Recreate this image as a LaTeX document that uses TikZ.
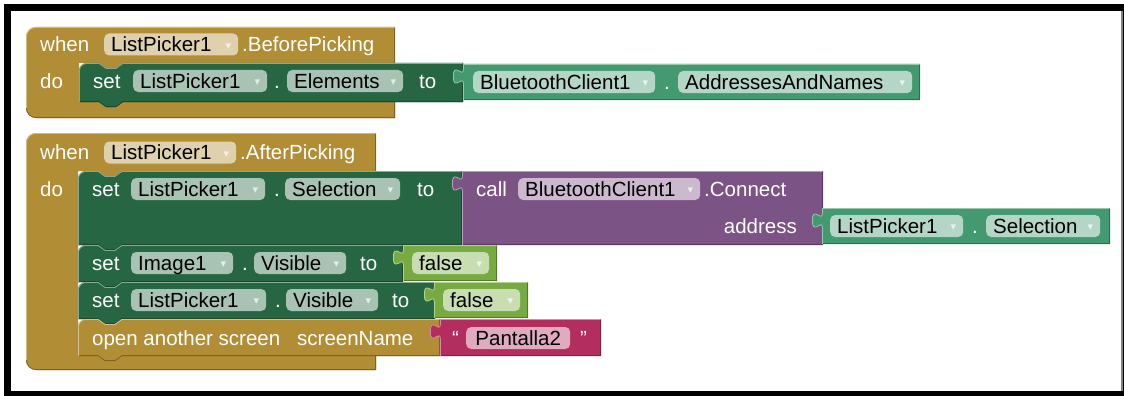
\documentclass[tikz,border=0pt]{standalone}
\usepackage{fontspec}
\setmainfont{Liberation Sans}
\newfontfamily\symfont{DejaVu Sans}

% block palette
\definecolor{evgold}{RGB}{177,141,53}
\definecolor{setgreen}{RGB}{38,102,67}
\definecolor{getgreen}{RGB}{67,153,112}
\definecolor{callpurple}{RGB}{124,83,133}
\definecolor{logicgreen}{RGB}{119,171,65}
\definecolor{textpink}{RGB}{179,45,94}
\colorlet{arrc}{white}

\newcommand\blockfont{\fontsize{20.5}{24}\selectfont}
% dropdown arrow at the right end of a field
\newcommand\dd{\hfill{\symfont\fontsize{11}{11}\selectfont\color{arrc}\raisebox{2.5pt}{▾}}}

% statement block: colour, x0, y0, x1, y1 (y grows downwards)
\newcommand\stmtblock[5]{%
  \fill[#1] (#2,#5) -- (#2,#3+8) arc[start angle=180,end angle=90,radius=8pt]
    -- (#2+20,#3) -- (#2+27,#3+5) -- (#2+37,#3+5) -- (#2+44,#3) -- (#4,#3) -- (#4,#5)
    -- (#2+44,#5) -- (#2+37,#5+5) -- (#2+27,#5+5) -- (#2+20,#5) -- cycle;
  \draw[#1!70!black, line width=0.8pt] (#4-0.4,#3) -- (#4-0.4,#5-0.4) -- (#2+44,#5-0.4)
    -- (#2+37,#5+4.6) -- (#2+27,#5+4.6) -- (#2+20,#5-0.4) -- (#2,#5-0.4);
  \draw[#1!55!white, line width=0.8pt] (#2+0.4,#5) -- (#2+0.4,#3+8)
    arc[start angle=180,end angle=90,radius=7.6pt]
    -- (#2+20,#3+0.4) -- (#2+27,#3+5.4) -- (#2+37,#3+5.4) -- (#2+44,#3+0.4) -- (#4-0.4,#3+0.4);
}

% value block with its puzzle tab on the left: colour, x0, y0, x1, y1
\newcommand\valueblock[5]{%
  \fill[#1] (#2,#3) -- (#4,#3) -- (#4,#5) -- (#2,#5) -- (#2,#3+20)
    .. controls (#2,#3+10) and (#2-10,#3+28) .. (#2-10,#3+12.5)
    .. controls (#2-10,#3-3) and (#2,#3+15) .. (#2,#3+5) -- cycle;
  \draw[#1!70!black, line width=0.8pt] (#4-0.4,#3) -- (#4-0.4,#5-0.4) -- (#2,#5-0.4);
  \draw[#1!55!white, line width=0.8pt] (#2+0.4,#5) -- (#2+0.4,#3+20)
    .. controls (#2+0.4,#3+10) and (#2-9.6,#3+28) .. (#2-9.6,#3+12.5)
    .. controls (#2-9.6,#3-3) and (#2+0.4,#3+15) .. (#2+0.4,#3+5) -- (#2+0.4,#3+0.4) -- (#4-0.4,#3+0.4);
}

% event handler: x0, y0, right, bar bottom, column right, lower bar top, bottom
\newcommand\eventblock[7]{%
  \fill[evgold] (#1,#2+10) arc[start angle=180,end angle=90,radius=10pt] -- (#3,#2) -- (#3,#4)
    -- (#5+44,#4) -- (#5+37,#4+5) -- (#5+27,#4+5) -- (#5+20,#4) -- (#5,#4) -- (#5,#6)
    -- (#3,#6) -- (#3,#7) -- (#1+10,#7) arc[start angle=270,end angle=180,radius=10pt] -- cycle;
  \draw[evgold!70!black, line width=0.8pt] (#3-0.4,#2) -- (#3-0.4,#4);
  \draw[evgold!70!black, line width=0.8pt] (#3-0.4,#6) -- (#3-0.4,#7-0.4) -- (#1+10,#7-0.4)
    arc[start angle=270,end angle=180,radius=9.6pt];
  \draw[evgold!60!white, line width=0.8pt] (#1+0.4,#7-10) -- (#1+0.4,#2+10)
    arc[start angle=180,end angle=90,radius=9.6pt] -- (#3-0.4,#2+0.4);
}

\tikzset{
  lbl/.style={text=white, inner sep=0pt, anchor=west, font=\blockfont,
    text height=14.7pt, text depth=0pt},
  pill/.style={fill=#1!40!white, rounded corners=5pt, inner xsep=7pt, inner ysep=0pt,
    minimum height=22pt, anchor=west, text=black, align=left, font=\blockfont,
    text height=14.7pt, text depth=0pt,
    execute at begin node={\colorlet{arrc}{#1!12!white}}},
}

\begin{document}
\begin{tikzpicture}[x=1pt,y=-1pt]
\useasboundingbox (0,0) rectangle (1124,396);
% frame
\fill[black] (4,4) rectangle (1124,396);
\fill[white] (11,11) rectangle (1121,391);
\fill[gray] (1121,11) rectangle (1123,391);

% ---- first handler ----
\eventblock{26}{27}{395}{63}{79}{102}{118}
\stmtblock{setgreen}{79}{63}{463}{102}
\valueblock{getgreen}{463}{64}{920}{100}

\node[lbl] (when1) at (40,44.5) {when};
\node[pill=evgold, text width=120pt] (comp1) at (104,44.5) {ListPicker1\dd};
\node[lbl] (ev1) at (242,44.5) {.BeforePicking};

\node[lbl] (do1) at (40,81) {do};
\node[lbl] (set1) at (93,81) {set};
\node[pill=setgreen, text width=120pt] (comp2) at (133,81) {ListPicker1\dd};
\node[lbl] (dot1) at (274,81) {.};
\node[pill=setgreen, text width=102pt] (prop1) at (287,81) {Elements\dd};
\node[lbl] (to1) at (419,81) {to};
\node[pill=getgreen, text width=168pt] (comp3) at (473,82) {BluetoothClient1\dd};
\node[lbl] (dot2) at (664,82) {.};
\node[pill=getgreen, text width=220pt] (prop2) at (678,82) {AddressesAndNames\dd};

% ---- second handler ----
\eventblock{26}{133}{376}{171}{78}{356}{370}
\stmtblock{setgreen}{78}{171}{462}{245}
\valueblock{callpurple}{462}{171}{823}{245}
\valueblock{getgreen}{822}{208}{1110}{244}
\stmtblock{setgreen}{78}{245}{403}{282}
\valueblock{logicgreen}{403}{245}{497}{281}
\stmtblock{setgreen}{78}{282}{435}{319}
\valueblock{logicgreen}{434}{282}{528}{318}
\stmtblock{evgold}{78}{319}{440}{356}
\valueblock{textpink}{440}{319}{601}{356}

\node[lbl] (when2) at (40,152.5) {when};
\node[pill=evgold, text width=118pt] (comp4) at (104,152.5) {ListPicker1\dd};
\node[lbl] (ev2) at (240,152.5) {.AfterPicking};

\node[lbl] (do2) at (40,189) {do};
\node[lbl] (set2) at (92,189) {set};
\node[pill=setgreen, text width=120pt] (comp5) at (131,189) {ListPicker1\dd};
\node[lbl] (dot3) at (274,189) {.};
\node[pill=setgreen, text width=101pt] (prop3) at (285,189) {Selection\dd};
\node[lbl] (to2) at (417,189) {to};
\node[lbl] (call) at (476,189) {call};
\node[pill=callpurple, text width=168pt] (comp6) at (518,189) {BluetoothClient1\dd};
\node[lbl] (meth) at (704,189) {.Connect};
\node[lbl, anchor=east] (addr) at (797,226) {address};
\node[pill=getgreen, text width=119pt] (comp7) at (830,226) {ListPicker1\dd};
\node[lbl] (dot4) at (972,226) {.};
\node[pill=getgreen, text width=100pt] (prop4) at (986,226) {Selection\dd};

\node[lbl] (set3) at (92,263) {set};
\node[pill=setgreen, text width=88pt] (comp8) at (131,263) {Image1\dd};
\node[lbl] (dot5) at (242,263) {.};
\node[pill=setgreen, text width=78pt] (prop5) at (254,263) {Visible\dd};
\node[lbl] (to3) at (360,263) {to};
\node[pill=logicgreen, text width=63pt] (val1) at (412,263) {false\dd};

\node[lbl] (set4) at (92,300) {set};
\node[pill=setgreen, text width=121pt] (comp9) at (131,300) {ListPicker1\dd};
\node[lbl] (dot6) at (275,300) {.};
\node[pill=setgreen, text width=78pt] (prop6) at (286,300) {Visible\dd};
\node[lbl] (to4) at (392,300) {to};
\node[pill=logicgreen, text width=63pt] (val2) at (443,300) {false\dd};

\node[lbl] (open) at (92,338) {open another screen};
\node[lbl] (scr) at (297,338) {screenName};
\node[lbl] (lq) at (452,338) {“};
\node[pill=textpink, text width=90pt, align=center] (str) at (466,338) {Pantalla2};
\node[lbl] (rq) at (580,338) {”};
\end{tikzpicture}
\end{document}
